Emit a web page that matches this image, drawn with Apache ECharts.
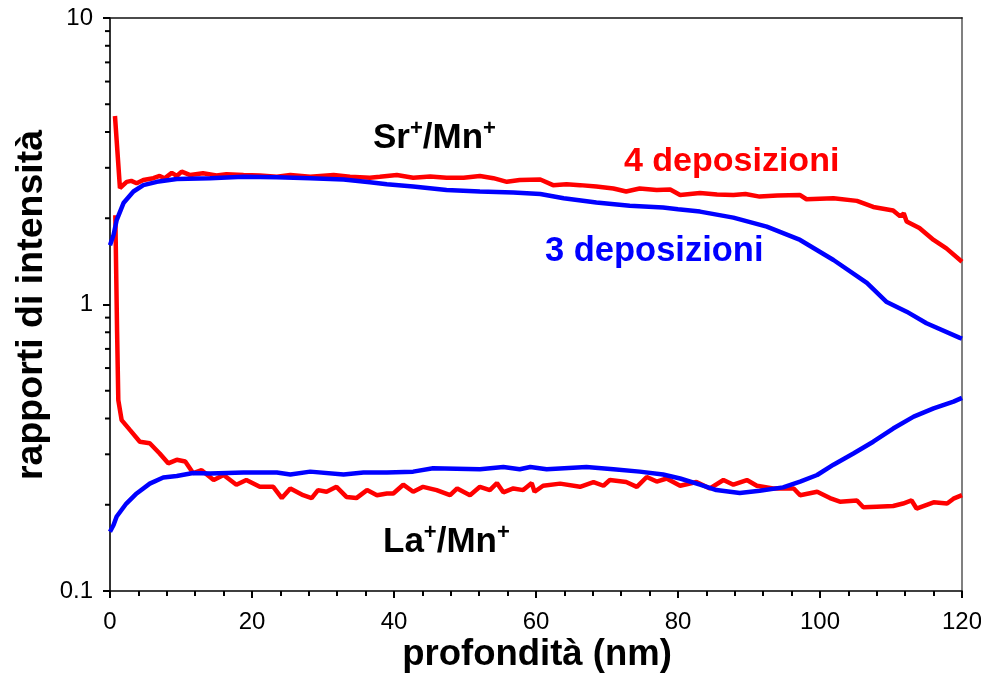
<!DOCTYPE html>
<html>
<head>
<meta charset="utf-8">
<script src="https://cdn.jsdelivr.net/npm/echarts@6/dist/echarts.min.js"></script>
<style>html,body{margin:0;padding:0;background:#fff}#c{width:981px;height:675px}</style>
</head>
<body>
<div id="c"></div>
<script>
// x: profondità (nm), y: rapporti di intensità
const srMn4dep = [[0.7,4.55],[1.4,2.55],[2.35,2.68],[3.0,2.70],[3.75,2.65],[4.7,2.72],[6.1,2.76],[7.0,2.81],[7.7,2.76],[8.7,2.88],[9.4,2.81],[10.1,2.91],[11.3,2.83],[13.1,2.87],[15,2.82],[16.4,2.85],[18.8,2.83],[21.1,2.82],[23.5,2.79],[25.4,2.83],[28.2,2.79],[31.5,2.83],[33.8,2.79],[36.6,2.77],[38,2.79],[40.4,2.83],[42.7,2.77],[45.1,2.80],[47.4,2.77],[49.8,2.77],[52.1,2.81],[54,2.76],[55.9,2.68],[57.7,2.72],[60.6,2.73],[62.4,2.61],[64.3,2.63],[66.2,2.61],[68.5,2.58],[70.9,2.54],[72.7,2.48],[74.6,2.54],[77,2.51],[78.9,2.52],[80.3,2.41],[83.1,2.45],[85.5,2.42],[87.8,2.41],[89.5,2.43],[91.5,2.38],[94,2.40],[97.2,2.41],[98.1,2.33],[101.9,2.35],[105.2,2.30],[107.5,2.19],[110.3,2.13],[111.3,2.03],[111.8,2.08],[112.2,1.95],[114,1.85],[116,1.68],[117.8,1.57],[120,1.41]];
const srMn3dep = [[0,1.61],[0.5,1.75],[0.94,1.97],[1.9,2.26],[3.3,2.48],[4.7,2.61],[6.6,2.68],[9.4,2.74],[14.1,2.76],[18.8,2.79],[23.5,2.78],[28.2,2.76],[32.9,2.73],[36.6,2.67],[39,2.63],[42.7,2.58],[47.4,2.51],[52.1,2.48],[56.8,2.46],[60.6,2.43],[63.9,2.35],[68.5,2.27],[73.2,2.21],[77.9,2.18],[80,2.15],[83.1,2.11],[87.8,2.01],[92.5,1.87],[97.2,1.68],[101.9,1.43],[106.6,1.19],[109.4,1.02],[112.2,0.944],[115,0.86],[119.7,0.765],[120,0.76]];
const laMn4dep = [[0.75,2.05],[1.0,0.8],[1.17,0.464],[1.64,0.395],[2.8,0.365],[4.2,0.332],[5.6,0.328],[7.0,0.302],[8.2,0.279],[9.4,0.287],[10.6,0.283],[11.7,0.258],[12.9,0.264],[14.6,0.244],[16,0.254],[17.8,0.235],[19.2,0.244],[21.1,0.231],[23,0.231],[24.2,0.211],[25.4,0.228],[27.2,0.216],[28.4,0.211],[29.3,0.225],[30.5,0.222],[31.9,0.231],[33.3,0.213],[34.7,0.211],[36.2,0.225],[37.6,0.216],[39.0,0.219],[39.9,0.219],[41.3,0.235],[42.7,0.222],[44.1,0.231],[46,0.225],[47.9,0.216],[48.9,0.228],[50.7,0.216],[52.1,0.231],[53.5,0.225],[54.5,0.238],[55.4,0.221],[56.8,0.228],[58.2,0.225],[59.4,0.238],[59.8,0.222],[61,0.233],[63.4,0.237],[66.2,0.231],[68.1,0.240],[69.5,0.233],[70.4,0.244],[72.7,0.240],[74.2,0.231],[75.6,0.250],[77,0.241],[78.4,0.247],[80.3,0.233],[82.6,0.240],[84.5,0.228],[86.4,0.244],[87.8,0.235],[89.7,0.244],[91.1,0.233],[93.4,0.228],[96.3,0.228],[97.2,0.216],[99.6,0.222],[101.4,0.211],[102.8,0.205],[105.2,0.207],[106.1,0.196],[108,0.197],[110.3,0.198],[111.7,0.202],[112.9,0.207],[113.6,0.194],[116,0.204],[117.9,0.202],[118.8,0.210],[120,0.216]];
const laMn3dep = [[0,0.161],[0.5,0.170],[0.94,0.182],[2.3,0.202],[3.75,0.219],[5.6,0.237],[7.5,0.249],[9.4,0.252],[11.7,0.258],[14.1,0.257],[18.8,0.259],[23.5,0.259],[25.4,0.255],[28.2,0.261],[32.9,0.255],[35.7,0.259],[39,0.259],[42.7,0.261],[45.5,0.268],[52.1,0.266],[55.4,0.271],[57.7,0.266],[59.2,0.271],[61.5,0.266],[67.1,0.271],[70.9,0.266],[74.6,0.261],[77.9,0.255],[80.3,0.247],[83.1,0.235],[85.4,0.225],[88.7,0.220],[91.5,0.224],[94.8,0.230],[97.2,0.241],[99.6,0.254],[101.9,0.276],[104.7,0.302],[107.5,0.332],[110.3,0.369],[113.2,0.406],[116,0.434],[118.8,0.458],[120,0.472]];
const yMinorTicks = [0.2,0.3,0.4,0.5,0.6,0.7,0.8,0.9,2,3,4,5,6,7,8,9];
const xTickLabels = [0,20,40,60,80,100,120];
const yTickLabels = ['0.1','1','10'];
const xTitle = 'profondità (nm)';
const yTitle = 'rapporti di intensità';

const FONT = '"Liberation Sans", Arial, sans-serif';
const chart = echarts.init(document.getElementById('c'));

chart.setOption({
  animation: false,
  grid: {left: 110, right: 19, top: 18, bottom: 84, outerBoundsMode: 'none'},
  xAxis: [{
    type: 'value', min: 0, max: 120, interval: 20,
    axisLine: {show: true, onZero: false, lineStyle: {color: '#000', width: 1.6}},
    axisTick: {show: true, length: 7, lineStyle: {color: '#000', width: 2}},
    minorTick: {show: true, splitNumber: 5, length: 5, lineStyle: {color: '#000', width: 2}},
    splitLine: {show: false},
    axisLabel: {fontFamily: FONT, fontSize: 24, color: '#000', margin: 19,
      formatter: v => xTickLabels.includes(v) ? String(v) : ''}
  }, {
    type: 'value', min: 0, max: 120, position: 'top',
    axisLine: {show: true, onZero: false, lineStyle: {color: '#111', width: 1.6}},
    axisTick: {show: false}, axisLabel: {show: false}, splitLine: {show: false}
  }],
  yAxis: [{
    type: 'log', logBase: 10, min: 0.1, max: 10,
    axisLine: {show: true, onZero: false, lineStyle: {color: '#000', width: 1.6}},
    axisTick: {show: true, length: 7, lineStyle: {color: '#000', width: 2}},
    splitLine: {show: false},
    axisLabel: {fontFamily: FONT, fontSize: 24, color: '#000', margin: 17,
      formatter: v => {
        const s = v < 1 ? v.toFixed(1) : String(Math.round(v));
        return yTickLabels.includes(s) ? s : '';
      }}
  }, {
    type: 'log', logBase: 10, min: 0.1, max: 10, position: 'right',
    axisLine: {show: true, onZero: false, lineStyle: {color: '#808080', width: 2}},
    axisTick: {show: false}, axisLabel: {show: false}, splitLine: {show: false}
  }],
  series: [
    {type: 'custom', name: 'yminor', silent: true, clip: false, z: 5,
      data: yMinorTicks.map(v => [0, v]),
      renderItem: (params, api) => {
        const p = api.coord([api.value(0), api.value(1)]);
        return {type: 'line', shape: {x1: p[0] - 5, y1: p[1], x2: p[0], y2: p[1]}, style: {stroke: '#000', lineWidth: 2}};
      }},
    {type: 'line', name: 'Sr 4', data: srMn4dep, showSymbol: false, lineStyle: {color: '#ff0000', width: 4.5}, itemStyle: {color: '#ff0000'}},
    {type: 'line', name: 'La 4', data: laMn4dep, showSymbol: false, lineStyle: {color: '#ff0000', width: 4.5}, itemStyle: {color: '#ff0000'}},
    {type: 'line', name: 'Sr 3', data: srMn3dep, showSymbol: false, lineStyle: {color: '#0000ff', width: 4.5}, itemStyle: {color: '#0000ff'}},
    {type: 'line', name: 'La 3', data: laMn3dep, showSymbol: false, lineStyle: {color: '#0000ff', width: 4.5}, itemStyle: {color: '#0000ff'}}
  ],
  graphic: [
    {type: 'text', x: 537, y: 655, z: 10, style: {
      text: xTitle, fill: '#000', fontFamily: FONT, fontSize: 36.5, fontWeight: 'bold', align: 'center', verticalAlign: 'middle'}},
    {type: 'text', x: 32, y: 305, rotation: Math.PI / 2, z: 10, style: {
      text: yTitle, fill: '#000', fontFamily: FONT, fontSize: 37.5, fontWeight: 'bold', align: 'center', verticalAlign: 'middle'}},
    {type: 'text', left: 373, top: 118, z: 10, style: {
      text: '{b|Sr}{s|+}{b|/Mn}{s|+}', fill: '#000',
      rich: {b: {fontFamily: FONT, fontSize: 35, fontWeight: 'bold', fill: '#000', lineHeight: 40},
             s: {fontFamily: FONT, fontSize: 22, fontWeight: 'bold', fill: '#000', padding: [0, 0, 18, 0]}}}},
    {type: 'text', left: 383, top: 522, z: 10, style: {
      text: '{b|La}{s|+}{b|/Mn}{s|+}', fill: '#000',
      rich: {b: {fontFamily: FONT, fontSize: 35, fontWeight: 'bold', fill: '#000', lineHeight: 40},
             s: {fontFamily: FONT, fontSize: 22, fontWeight: 'bold', fill: '#000', padding: [0, 0, 18, 0]}}}},
    {type: 'text', left: 624, top: 145, z: 10, style: {
      text: '4 deposizioni', fill: '#ff0000', fontFamily: FONT, fontSize: 34, fontWeight: 'bold'}},
    {type: 'text', left: 545, top: 234, z: 10, style: {
      text: '3 deposizioni', fill: '#0000ff', fontFamily: FONT, fontSize: 34.5, fontWeight: 'bold'}}
  ]
});
</script>
</body>
</html>
